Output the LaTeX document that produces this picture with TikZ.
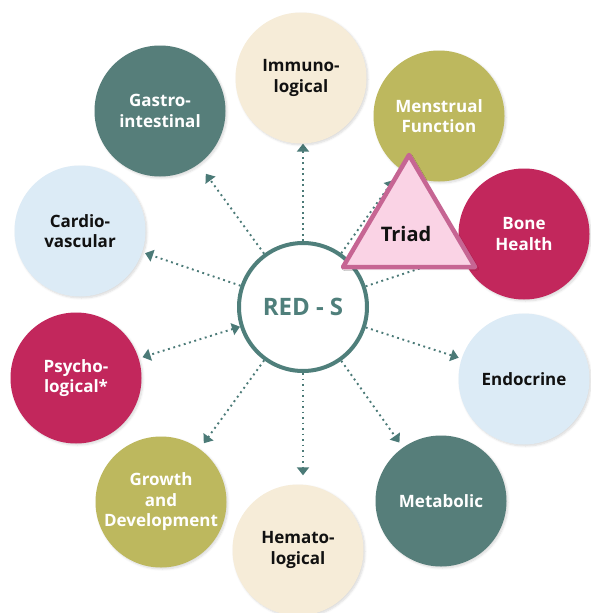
\documentclass[tikz,border=0pt]{standalone}
\usepackage{fontspec}
\setmainfont{Open Sans}
\usetikzlibrary{arrows.meta,shadows.blur}
\definecolor{cTeal}{HTML}{567E7A}
\definecolor{cRing}{HTML}{4F7F7B}
\definecolor{cArrow}{HTML}{4B7A77}
\definecolor{cOlive}{HTML}{BDB85E}
\definecolor{cCrim}{HTML}{C2275C}
\definecolor{cBlue}{HTML}{DCEBF6}
\definecolor{cCream}{HTML}{F6ECD8}
\definecolor{cTriFill}{HTML}{FAD3E5}
\definecolor{cTriLine}{HTML}{C66593}
\definecolor{cText}{HTML}{111111}
\pgfdeclarelayer{bg}
\pgfsetlayers{bg,main}
\begin{document}
\begin{tikzpicture}[x=1pt,y=-1pt,
  blob/.style={circle, minimum size=131pt, inner sep=0pt, align=center,
    font=\bfseries\fontsize{17}{20.5}\selectfont,
    blur shadow={shadow xshift=1.5pt, shadow yshift=-1.5pt, shadow opacity=15, shadow blur steps=6}},
  dk/.style={blob, fill=#1, text=white},
  lt/.style={blob, fill=#1, text=cText},
  arr/.style={draw=cArrow, line width=1.9pt, dash pattern=on 1.9pt off 3.6pt,
    -{Triangle[length=8pt,width=12pt]}},
]
\useasboundingbox (0,0) rectangle (590,613);

\node[circle, draw=cRing, line width=4pt, fill=white, minimum size=128pt, inner sep=0pt,
  text=cRing, font=\bfseries\fontsize{24}{28}\selectfont] (c) at (303,307) {RED - S};

\node[lt=cCream] (imm) at (301,78) {Immuno-\\logical};
\node[dk=cOlive] (men) at (439,116) {Menstrual\\Function};
\node[dk=cCrim] (bone) at (524,234) {Bone\\Health};
\node[lt=cBlue] (endo) at (524,379) {Endocrine};
\node[dk=cTeal] (met) at (441,501) {Metabolic};
\node[lt=cCream] (hem) at (298,550) {Hemato-\\logical};
\node[dk=cOlive] (gro) at (161,502) {Growth\\and\\Development};
\node[dk=cCrim] (psy) at (76,378) {Psycho-\\logical*};
\node[lt=cBlue] (car) at (80,231) {Cardio-\\vascular};
\node[dk=cTeal] (gas) at (160,111) {Gastro-\\intestinal};

\coordinate (tA) at (409,155);
\coordinate (tB) at (475,267);
\coordinate (tC) at (343,267);
\draw[fill=cTriFill, draw=cTriLine, line width=4.5pt, line join=round,
  blur shadow={shadow xshift=1.5pt, shadow yshift=-1.5pt, shadow opacity=20, shadow blur steps=6}]
  (tA) -- (tB) -- (tC) -- cycle;
\node[text=cText, font=\bfseries\fontsize{20}{24}\selectfont] (triad) at (406,234) {Triad};

\begin{pgfonlayer}{bg}
\draw[arr] (c) -- (c |- imm.south);
\draw[arr, shorten >=9pt] (c) -- (c |- hem.north);
\draw[arr, shorten >=12pt] (c) -- (gas);
\draw[arr, shorten >=3pt] (c) -- (car);
\draw[arr, shorten >=4pt, {Triangle[length=8pt,width=12pt]}-{Triangle[length=8pt,width=12pt]}] (c) -- (psy);
\draw[arr, shorten >=7pt] (c) -- (gro);
\draw[arr, shorten >=6pt] (c) -- (met);
\draw[arr, shorten >=3pt] (c) -- (endo);
\draw[arr, shorten >=13pt] (c) -- (men);
\draw[arr] (c) -- (bone);
\end{pgfonlayer}
\end{tikzpicture}
\end{document}
